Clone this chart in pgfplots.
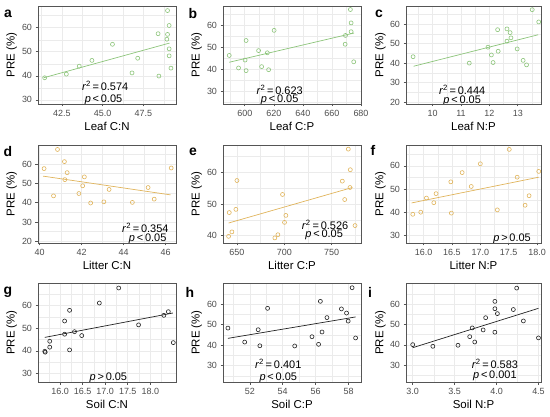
\documentclass[border=0pt]{standalone}
\usepackage{fontspec}
\setmainfont{Liberation Sans}
\usepackage{pgfplots}
\pgfplotsset{compat=1.18}
\definecolor{cgreen}{HTML}{8CC47A}
\definecolor{ctan}{HTML}{E0B45C}
\definecolor{cblack}{HTML}{222222}
\definecolor{gridc}{HTML}{EBEBEB}
\definecolor{tickc}{HTML}{4D4D4D}
\definecolor{framec}{HTML}{555555}
\tikzset{ann/.style={font=\fontsize{11}{12}\selectfont, text=black, inner sep=1pt}}
\pgfplotsset{
  panel/.style={
    scale only axis, anchor=south west,
    axis line style={framec, line width=0.8bp},
    tick style={framec, line width=0.6bp},
    tick align=outside, major tick length=2.5bp, minor tick length=0pt,
    xtick pos=bottom, ytick pos=left,
    grid=both,
    major grid style={gridc, line width=0.6bp},
    minor grid style={gridc, line width=0.3bp},
    ticklabel style={font=\fontsize{9}{10}\selectfont, text=tickc},
    /pgf/number format/assume math mode=true,
    label style={font=\fontsize{11.5}{13}\selectfont},
    xlabel style={at={(axis description cs:0.5,0)}, yshift=-22bp, anchor=center},
    ylabel style={at={(axis description cs:-0.19,0.5)}, anchor=center},
    ylabel={PRE (\%)},
  },
  pts/.style={only marks, mark=o, mark size=2bp, mark options={line width=0.6bp, draw=#1}},
  reg/.style={no marks, line width=0.7bp, draw=#1},
  dec1/.style={xticklabel={\pgfmathprintnumber[fixed,fixed zerofill,precision=1]{\tick}}},
}
\newcommand{\rsq}[1]{\textit{r}\textsuperscript{2}\,=\,#1}
\begin{document}
\begin{tikzpicture}
\useasboundingbox (0,0) rectangle (550bp,417bp);
% ---------- a ----------
\begin{axis}[panel, at={(38bp,313bp)}, width=138bp, height=98bp,
  xmin=41.03, xmax=49.5, ymin=28.3, ymax=69.0,
  xtick={42.5,45,47.5}, minor xtick={41.25,43.75,46.25,48.75},
  ytick={30,40,50,60}, minor ytick={35,45,55,65}, dec1,
  xlabel={Leaf C:N}]
\addplot[pts=cgreen] coordinates {(41.44,39.2)(42.77,40.7)(43.56,44.0)(44.34,46.4)(45.6,53.1)(46.8,41.2)(47.15,47.3)(48.4,57.5)(48.45,39.9)(48.98,67.1)(48.98,57.2)(48.94,55.2)(49.08,60.9)(49.08,51.2)(49.08,48.3)(49.19,43.2)};
\addplot[reg=cgreen] coordinates {(41.38,39.2)(49.1,53.6)};
\node[ann] at (axis cs:45.15,36) {\rsq{0.574}};
\node[ann] at (axis cs:45.05,30.2) {\textit{p}\,<\,0.05};
\end{axis}
% ---------- b ----------
\begin{axis}[panel, at={(223bp,313bp)}, width=138bp, height=98bp,
  xmin=585, xmax=680, ymin=24.2, ymax=68.8,
  xtick={600,620,640,660,680}, minor xtick={590,610,630,650,670},
  ytick={30,40,50,60}, minor ytick={25,35,45,55,65},
  xlabel={Leaf C:P}]
\addplot[pts=cgreen] coordinates {(589.3,46.3)(595.7,40.6)(600.2,44.2)(600.9,53.1)(600.9,39.4)(609.5,48.5)(611.6,41.2)(615.5,47.5)(616.4,39.8)(620.2,57.7)(669.3,55.4)(669.1,51.4)(672.7,67.2)(673.2,61.1)(673.2,57.1)(675,43.4)};
\addplot[reg=cgreen] coordinates {(589.3,43.2)(675.2,56.5)};
\node[ann] at (axis cs:624,30.8) {\rsq{0.623}};
\node[ann] at (axis cs:624,26.0) {\textit{p}\,<\,0.05};
\end{axis}
% ---------- c ----------
\begin{axis}[panel, at={(406bp,313bp)}, width=135bp, height=98bp,
  xmin=9.06, xmax=13.82, ymin=18.96, ymax=69.4,
  xtick={10,11,12,13}, minor xtick={9.5,10.5,11.5,12.5,13.5},
  ytick={20,30,40,50,60}, minor ytick={25,35,45,55,65},
  xlabel={Leaf N:P}]
\addplot[pts=cgreen] coordinates {(9.31,43.3)(11.29,40.0)(11.95,48.2)(12.07,44.2)(12.13,40.3)(12.29,57.2)(12.31,46.1)(12.62,57.6)(12.62,51.3)(12.73,55.7)(12.76,53.0)(12.98,47.3)(13.19,41.4)(13.31,39.1)(13.51,67.5)(13.74,61.2)};
\addplot[reg=cgreen] coordinates {(9.33,38.4)(13.72,54.6)};
\node[ann] at (axis cs:11.04,26.1) {\rsq{0.444}};
\node[ann] at (axis cs:11.04,20.8) {\textit{p}\,<\,0.05};
\end{axis}
% ---------- d ----------
\begin{axis}[panel, at={(38bp,174bp)}, width=138bp, height=98bp,
  xmin=39.92, xmax=46.5, ymin=19.1, ymax=69.8,
  xtick={40,42,44,46}, minor xtick={41,43,45},
  ytick={20,30,40,50,60}, minor ytick={25,35,45,55,65},
  xlabel={Litter C:N}]
\addplot[pts=ctan] coordinates {(40.21,57.6)(40.66,43.5)(40.85,67.5)(41.18,61.2)(41.2,51.9)(41.31,55.5)(41.87,44.7)(42.05,48.7)(42.13,53.3)(42.43,39.8)(43.06,40.4)(43.31,46.8)(44.42,40.1)(45.17,47.8)(45.46,41.8)(46.27,57.9)};
\addplot[reg=ctan] coordinates {(40.16,53.7)(46.24,44.0)};
\node[ann] at (axis cs:45.04,26.8) {\rsq{0.354}};
\node[ann] at (axis cs:45.15,21.4) {\textit{p}\,<\,0.05};
\end{axis}
% ---------- e ----------
\begin{axis}[panel, at={(223bp,174bp)}, width=138bp, height=98bp,
  xmin=635.3, xmax=780.9, ymin=37.7, ymax=68.6,
  xtick={650,700,750}, minor xtick={675,725,775},
  ytick={40,50,60}, minor ytick={45,55,65},
  xlabel={Litter C:P}]
\addplot[pts=ctan] coordinates {(641.2,39.8)(641.9,47.3)(644.7,41.2)(648.9,48.3)(650,57.4)(690,39.3)(693.2,40.3)(698.1,53.0)(700.2,44.2)(701.6,46.4)(761.2,57.2)(763.7,51.4)(767.5,67.3)(769.6,60.8)(769.3,55.2)(774.6,43.2)};
\addplot[reg=ctan] coordinates {(641.2,44.0)(771.8,55.2)};
\node[ann] at (axis cs:743,43.4) {\rsq{0.526}};
\node[ann] at (axis cs:742,40.2) {\textit{p}\,<\,0.05};
\end{axis}
% ---------- f ----------
\begin{axis}[panel, at={(406bp,174bp)}, width=135bp, height=98bp,
  xmin=15.69, xmax=18.07, ymin=26.7, ymax=69,
  xtick={16,16.5,17,17.5,18}, minor xtick={15.75,16.25,16.75,17.25,17.75},
  ytick={30,40,50,60}, minor ytick={35,45,55,65}, dec1,
  xlabel={Litter N:P}]
\addplot[pts=ctan] coordinates {(15.81,39.1)(15.95,40)(16.05,46.1)(16.18,44.1)(16.22,48.0)(16.48,53.1)(16.49,39.6)(16.68,57.1)(16.84,51.1)(17.0,60.9)(17.3,41.0)(17.51,67.1)(17.65,55.1)(17.79,43.0)(17.86,47.1)(18.03,57.6)};
\addplot[reg=ctan] coordinates {(15.79,44)(18.03,55.1)};
\node[ann] at (axis cs:17.56,28.6) {\textit{p}\,>\,0.05};
\end{axis}
% ---------- g ----------
\begin{axis}[panel, at={(38bp,35bp)}, width=138bp, height=99bp,
  xmin=15.51, xmax=18.57, ymin=26.3, ymax=69.8,
  xtick={16,16.5,17,17.5,18}, minor xtick={15.75,16.25,16.75,17.25,17.75,18.25},
  ytick={30,40,50,60}, minor ytick={35,45,55,65}, dec1,
  xlabel={Soil C:N}]
\addplot[pts=cblack] coordinates {(15.66,39.8)(15.67,39.4)(15.77,44.2)(15.77,41.6)(16.1,53.1)(16.1,47.3)(16.21,57.8)(16.21,40.4)(16.32,48.4)(16.48,46.7)(16.87,61.0)(17.3,67.6)(17.74,51.4)(18.3,55.6)(18.4,57.2)(18.51,43.6)};
\addplot[reg=cblack] coordinates {(15.66,45.9)(18.5,56.6)};
\node[ann] at (axis cs:17.07,28.1) {\textit{p}\,>\,0.05};
\end{axis}
% ---------- h ----------
\begin{axis}[panel, at={(223bp,35bp)}, width=138bp, height=99bp,
  xmin=50.37, xmax=58.76, ymin=22.1, ymax=70.2,
  xtick={52,54,56,58}, minor xtick={51,53,55,57},
  ytick={30,40,50,60}, minor ytick={25,35,45,55,65},
  xlabel={Soil C:P}]
\addplot[pts=cblack] coordinates {(50.67,48.3)(51.69,41.5)(52.51,47.5)(52.61,39.7)(53.08,57.9)(54.73,39.6)(55.78,44.1)(56.18,40.4)(56.29,61.3)(56.39,46.4)(56.69,53.4)(57.57,57.6)(57.88,55.6)(57.98,51.7)(58.22,67.9)(58.43,43.5)};
\addplot[reg=cblack] coordinates {(50.67,43.3)(58.43,53.7)};
\node[ann] at (axis cs:53.73,30.7) {\rsq{0.401}};
\node[ann] at (axis cs:53.73,23.9) {\textit{p}\,<\,0.05};
\end{axis}
% ---------- i ----------
\begin{axis}[panel, at={(406bp,35bp)}, width=135bp, height=99bp,
  xmin=2.92, xmax=4.53, ymin=21.8, ymax=70.3,
  xtick={3,3.5,4,4.5}, minor xtick={3.25,3.75,4.25},
  ytick={30,40,50,60}, minor ytick={25,35,45,55,65}, dec1,
  xlabel={Soil N:P}]
\addplot[pts=cblack] coordinates {(3.0,40.1)(3.24,39.3)(3.54,39.8)(3.68,44.0)(3.71,48.3)(3.74,41.4)(3.84,47.3)(3.87,53.3)(3.98,61.3)(3.98,57.7)(3.98,46.2)(4.01,55.3)(4.20,57.3)(4.24,67.8)(4.32,51.7)(4.50,43.4)};
\addplot[reg=cblack] coordinates {(3.0,38.6)(4.5,57.9)};
\node[ann] at (axis cs:3.98,30.8) {\rsq{0.583}};
\node[ann] at (axis cs:3.98,24.6) {\textit{p}\,<\,0.001};
\end{axis}
% ---------- panel letters ----------
\begin{scope}[every node/.style={font=\fontsize{14}{15}\selectfont\bfseries, anchor=center}]
\node at (8bp,403bp) {a};
\node at (193bp,403bp) {b};
\node at (379bp,403bp) {c};
\node at (8bp,265bp) {d};
\node at (193bp,265bp) {e};
\node at (373bp,267bp) {f};
\node at (8bp,125bp) {g};
\node at (190bp,125bp) {h};
\node at (370bp,125bp) {i};
\end{scope}
\end{tikzpicture}
\end{document}
